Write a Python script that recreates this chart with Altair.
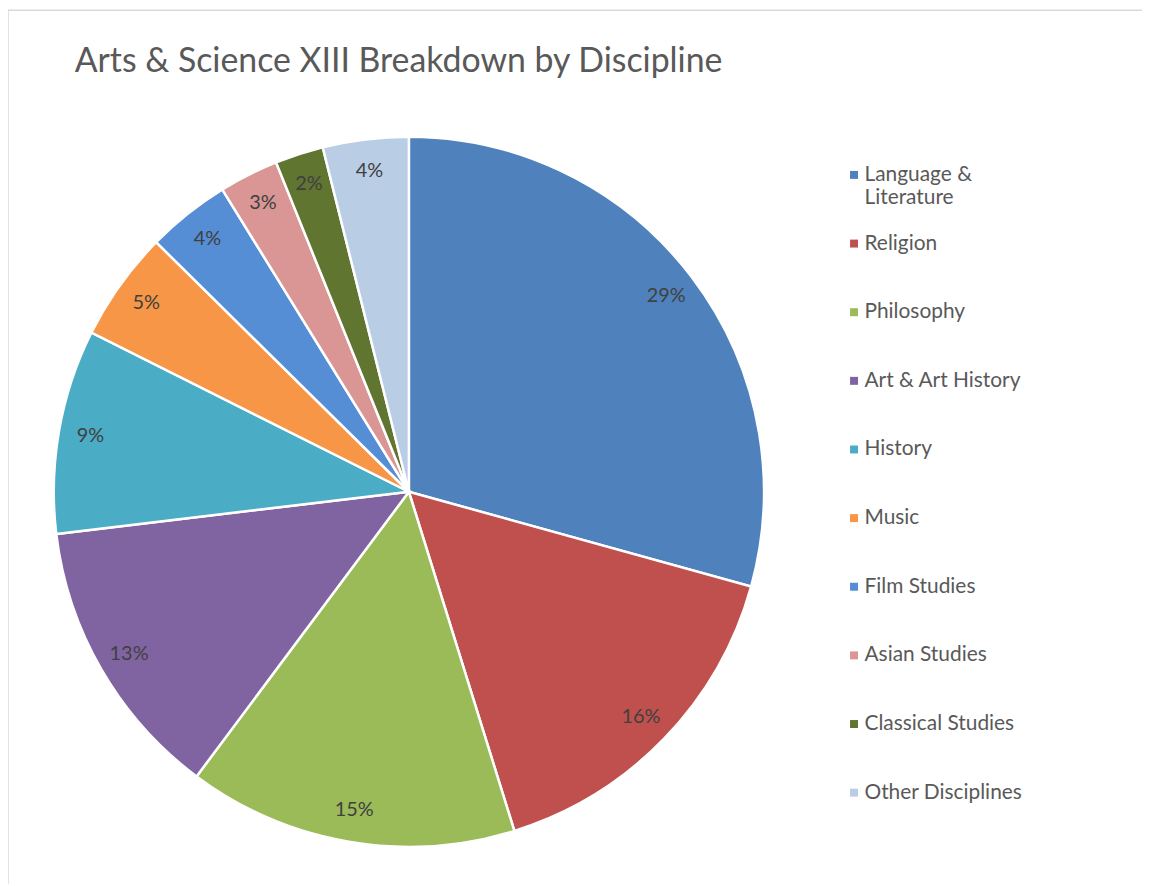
import altair as alt
import pandas as pd

disciplines = ["Language & Literature", "Religion", "Philosophy", "Art & Art History",
               "History", "Music", "Film Studies", "Asian Studies",
               "Classical Studies", "Other Disciplines"]
shares = [29.3, 15.9, 15.0, 12.9, 9.3, 5.0, 3.8, 2.7, 2.2, 3.9]
labels = ["29%", "16%", "15%", "13%", "9%", "5%", "4%", "3%", "2%", "4%"]
colors = ["#4F81BD", "#C0504D", "#9BBB59", "#8064A2", "#4BACC6",
          "#F79646", "#558ED5", "#D99694", "#5F7530", "#B9CDE5"]

df = pd.DataFrame({"discipline": disciplines, "share": shares,
                   "label": labels, "idx": list(range(len(disciplines)))})

FONT = "Lato"

base = alt.Chart(df).encode(
    theta=alt.Theta("share:Q", stack=True),
    order=alt.Order("idx:Q"),
    x=alt.value(403),
    y=alt.value(484),
)

pie = base.mark_arc(outerRadius=357, stroke="white", strokeWidth=2.5).encode(
    color=alt.Color(
        "discipline:N",
        scale=alt.Scale(domain=disciplines, range=colors),
        legend=alt.Legend(
            title=None, orient="none", legendX=840, legendY=155,
            symbolType="square", symbolSize=64, symbolStrokeWidth=0,
            labelFont=FONT, labelFontSize=21, labelColor="#595959",
            labelOffset=0, rowPadding=24, padding=0, labelLimit=300,
            labelExpr="datum.label == 'Language & Literature' ? ['Language &', 'Literature'] : [datum.label, '']",
        ),
    )
)

text = base.mark_text(radius=325, font=FONT, fontSize=20, color="#404040").encode(
    text="label:N"
)

frame_df = pd.DataFrame({"k": [0]})
top_line = alt.Chart(frame_df).mark_rule(color="#D9D9D9", strokeWidth=1.5).encode(
    x=alt.value(0), x2=alt.value(1150), y=alt.value(0)
)
left_line = alt.Chart(frame_df).mark_rule(color="#D9D9D9", strokeWidth=1.5).encode(
    x=alt.value(0), y=alt.value(0), y2=alt.value(878)
)

chart = alt.layer(top_line, left_line, pie, text).properties(
    width=1140, height=876,
    autosize=alt.AutoSizeParams(type="none"),
    padding=0,
    title=alt.TitleParams(
        "Arts & Science XIII Breakdown by Discipline",
        anchor="start", frame="group", font=FONT, fontSize=34,
        fontWeight="normal", color="#595959", baseline="alphabetic",
        offset=0, dx=67, dy=97,
    ),
).configure_view(stroke=None)

chart.save("out.html", embed_options={"renderer": "svg", "actions": False})
